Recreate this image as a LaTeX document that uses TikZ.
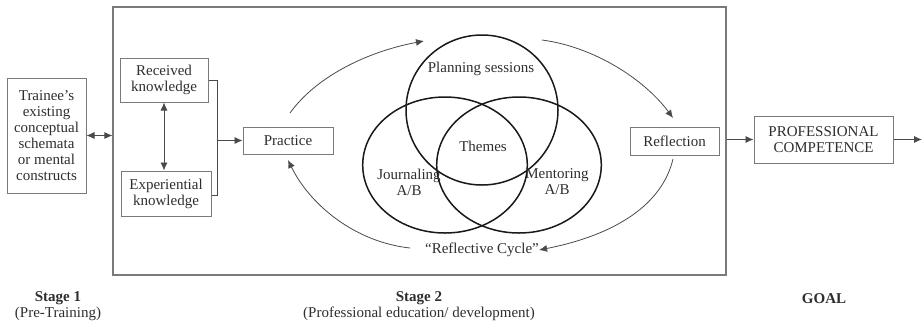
\documentclass[tikz,border=0pt]{standalone}
\usepackage{fontspec}
\setmainfont{Liberation Serif}
\usetikzlibrary{arrows.meta,shapes.geometric}
\definecolor{txt}{HTML}{2E2E2E}
\definecolor{boxline}{HTML}{7A7A7A}
\definecolor{arr}{HTML}{4A4A4A}
\begin{document}
\begin{tikzpicture}[x=1pt,y=-1pt,
  every node/.style={font=\fontsize{15}{16}\selectfont, text=txt},
  box/.style={draw=boxline, line width=1pt, inner sep=0pt, align=center},
  venn/.style={draw=black!90, line width=1.5pt, ellipse, inner sep=0pt},
  lbl/.style={inner sep=0pt, align=center},
  arrline/.style={draw=arr, line width=0.8pt},
  tip/.style={-{Latex[length=8pt,width=7pt]}},
  dtip/.style={{Latex[length=8pt,width=7pt]}-{Latex[length=8pt,width=7pt]}}
]
\useasboundingbox (0,0) rectangle (923,325);
% frame
\node[box, line width=1.1pt, minimum width=613pt, minimum height=268pt] (frame) at (419.5,141) {};
% boxes
\node[box, minimum width=79pt, minimum height=115pt] (trainee) at (46.5,135.5) {Trainee's\\existing\\conceptual\\schemata\\or mental\\constructs};
\node[box, minimum width=88pt, minimum height=44pt] (received) at (164,80) {Received\\knowledge};
\node[box, minimum width=90pt, minimum height=45pt] (experiential) at (166,193.5) {Experiential\\knowledge};
\node[box, minimum width=90pt, minimum height=27pt] (practice) at (288,140.5) {Practice};
\node[box, minimum width=89pt, minimum height=28pt] (reflection) at (674.5,141) {Reflection};
\node[box, minimum width=139pt, minimum height=47pt] (pc) at (823.5,139.5) {PROFESSIONAL\\COMPETENCE};
% venn
\node[venn, minimum width=152pt, minimum height=150pt] (planning) at (482,110) {};
\node[venn, minimum width=164.6pt, minimum height=136pt] (journaling) at (445,165) {};
\node[venn, minimum width=164.6pt, minimum height=136pt] (mentoring) at (519,165) {};
\node[lbl] (tplanning) at (481,69) {Planning sessions};
\node[lbl] (tthemes) at (483,146) {Themes};
\node[lbl] (tjournaling) at (409,182) {Journaling\\A/B};
\node[lbl] (tmentoring) at (557,182) {Mentoring\\A/B};
\node[lbl] (cycle) at (482,250) {“Reflective Cycle”};
% bottom labels
\node[lbl] (s1) at (58,306) {\textbf{Stage 1}\\(Pre-Training)};
\node[lbl] (s2) at (419,306) {\textbf{Stage 2}\\(Professional education/ development)};
\node[lbl] (goal) at (824,299) {\textbf{GOAL}};
% connectors
\draw[arrline, dtip] (trainee.east) -- (frame.west |- trainee.east);
\draw[arrline, dtip] (received.south) -- (received.south |- experiential.north);
\coordinate (bt) at (217,80);
\coordinate (bb) at (217,195);
\coordinate (bm) at (217,140.5);
\draw[arrline] (received.east |- bt) -- (bt) -- (bb) -- (experiential.east |- bb);
\draw[arrline, tip] (bm) -- (practice.west);
\draw[arrline, tip] (frame.east |- pc.west) -- (pc.west);
\coordinate (out) at (922,139.5);
\draw[arrline, tip] (pc.east) -- (out);
% cycle arcs
\coordinate (a1s) at (290,113);
\coordinate (a1e) at (424,41);
\coordinate (a2s) at (542,40);
\coordinate (a2e) at (673,118);
\coordinate (a3s) at (673,159);
\coordinate (a4s) at (410,248);
\coordinate (a4e) at (288,160);
\draw[arrline, tip] (a1s) .. controls (315,78) and (365,52) .. (a1e);
\draw[arrline, tip] (a2s) .. controls (595,47) and (645,80) .. (a2e);
\draw[arrline, tip] (a3s) .. controls (662,205) and (615,235) .. (cycle.east);
\draw[arrline, tip] (a4s) .. controls (355,242) and (310,205) .. (a4e);
\end{tikzpicture}
\end{document}
